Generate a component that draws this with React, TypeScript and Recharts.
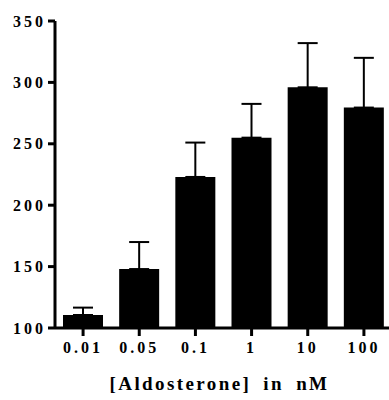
import React from 'react';
import { BarChart, Bar, XAxis, YAxis, ErrorBar, Label } from 'recharts';

const categories = ['0.01', '0.05', '0.1', '1', '10', '100'];
const means = [110.6, 148, 223, 255, 296, 279.5];
const upperErrors = [6, 22, 28, 27.5, 36, 40.5];
const yTicks = [100, 150, 200, 250, 300, 350];

const data = categories.map((c, i) => ({
  conc: c,
  value: means[i],
  err: [0, upperErrors[i]],
}));

const FONT = 'Liberation Serif';

const TitleLabel = (props: any) => {
  const vb = props.viewBox || {};
  const cx = vb.x + vb.width / 2 - 4;
  return (
    <text
      x={cx}
      y={390}
      textAnchor="middle"
      fontFamily={FONT}
      fontWeight="bold"
      fontSize={19}
      letterSpacing={2.4}
      wordSpacing={5}
      fill="#000"
    >
      [Aldosterone] in nM
    </text>
  );
};

const tickProps = { fill: '#000', fontFamily: FONT, fontWeight: 'bold', fontSize: 16, letterSpacing: 3 };

export default function App() {
  return (
    <div style={{ position: 'absolute', left: 0, top: 0, width: 389, height: 400, overflow: 'hidden', background: '#fff' }}>
      <BarChart
        width={392}
        height={400}
        data={data}
        margin={{ top: 21, right: 0, left: 0, bottom: 0 }}
        barSize={40}
      >
        <XAxis
          dataKey="conc"
          height={72}
          axisLine={{ stroke: '#000', strokeWidth: 3 }}
          tickLine={{ stroke: '#000', strokeWidth: 3 }}
          tickSize={8}
          tickMargin={6}
          tick={tickProps}
        >
          <Label content={<TitleLabel />} />
        </XAxis>
        <YAxis
          width={55}
          domain={[100, 350]}
          ticks={yTicks}
          allowDataOverflow
          axisLine={{ stroke: '#000', strokeWidth: 3 }}
          tickLine={{ stroke: '#000', strokeWidth: 3 }}
          tickSize={7}
          tickMargin={2}
          tick={tickProps}
        />
        <Bar dataKey="value" fill="#000" isAnimationActive={false}>
          <ErrorBar dataKey="err" width={10} strokeWidth={2} stroke="#000" direction="y" />
        </Bar>
      </BarChart>
    </div>
  );
}
